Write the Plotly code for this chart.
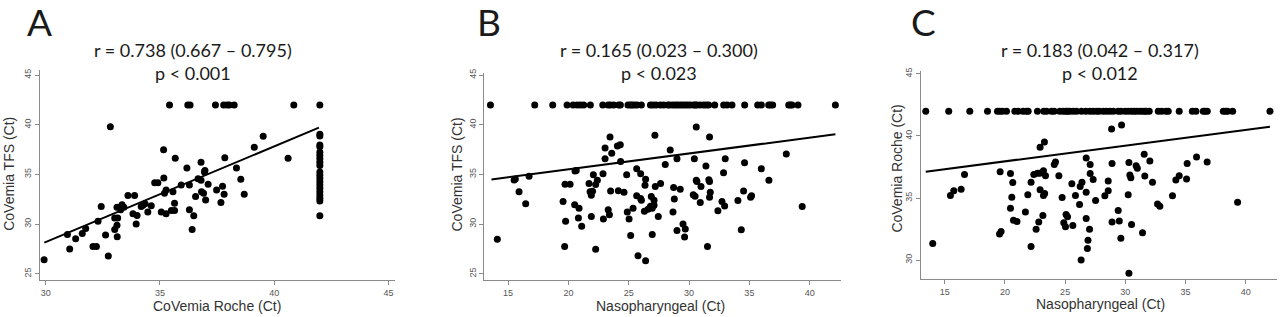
import plotly.graph_objects as go

# ---------------- Data ----------------
# Panel A: CoVemia Roche (x) vs CoVemia TFS (y)
a_x = [35.42, 36.22, 36.32, 37.43, 37.79, 37.94, 38.04, 38.25, 40.86, 42.0,
       42.0, 42.0, 42.0, 42.0, 42.0, 42.0, 42.0, 42.0, 42.0, 42.0,
       42.0, 42.0, 42.0, 42.0, 42.0, 42.0, 42.0, 42.0, 42.0, 42.0,
       29.93, 31.05, 30.95, 31.31, 31.60, 31.75, 32.29, 32.43, 32.07, 32.22,
       32.62, 32.74, 32.83, 33.02, 33.12, 33.13, 33.02, 33.15, 33.12, 33.28,
       33.34, 33.42, 33.60, 33.89, 33.82, 34.00, 33.96, 34.18, 34.35, 34.47,
       34.62, 34.26, 34.77, 34.91, 35.06, 35.17, 35.16, 35.20, 35.27, 35.27,
       35.57, 35.50, 35.64, 35.67, 35.64, 35.93, 36.18, 36.29, 36.29, 36.41,
       36.48, 36.56, 36.80, 36.80, 36.91, 36.82, 36.95, 37.00, 36.97, 36.67,
       37.11, 37.48, 37.74, 37.81, 37.67, 37.84, 38.35, 38.54, 38.69, 39.13,
       39.52, 40.61]
a_y = [42.0, 42.0, 42.0, 42.0, 42.0, 42.0, 42.0, 42.0, 42.0, 42.0,
       39.05, 38.88, 37.96, 37.80, 37.23, 36.90, 36.57, 36.24, 35.90, 35.25,
       34.92, 34.59, 34.26, 33.93, 33.60, 33.26, 32.93, 32.60, 32.34, 30.85,
       26.42, 27.50, 28.96, 28.53, 29.06, 29.56, 30.28, 31.77, 27.74, 27.74,
       28.90, 26.80, 39.80, 29.46, 29.89, 28.73, 30.61, 30.61, 31.70, 31.44,
       31.94, 31.70, 32.87, 32.87, 31.05, 30.88, 30.02, 31.77, 32.04, 31.21,
       31.84, 31.90, 34.16, 34.16, 31.21, 34.65, 37.50, 33.10, 33.43, 31.05,
       33.26, 31.38, 31.38, 36.63, 32.10, 33.93, 35.64, 33.93, 31.44, 29.46,
       30.85, 32.77, 36.24, 34.42, 33.10, 33.26, 35.24, 32.43, 35.41, 34.58,
       34.02, 33.43, 33.82, 33.00, 32.17, 36.67, 35.64, 34.52, 33.00, 37.73,
       38.85, 36.63]
a_fit_x = [29.94, 41.96]
a_fit_y = [28.14, 39.71]

# Panel B: Nasopharyngeal (x) vs CoVemia TFS (y)
b_top_x = [13.54, 17.21, 18.70, 19.89, 20.39, 20.72, 21.00, 21.27, 21.82, 22.85,
           23.29, 23.48, 23.76, 24.17, 24.31, 24.94, 25.14, 25.28, 25.47, 25.69,
           26.05, 26.80, 27.02, 27.27, 27.62, 27.90, 28.23, 28.40, 28.65, 28.87,
           29.06, 29.28, 29.48, 29.70, 29.89, 30.11, 30.39, 30.52, 30.66, 30.94,
           31.22, 31.44, 31.63, 32.13, 32.87, 33.15, 33.56, 34.61, 35.69, 35.99,
           36.60, 36.74, 36.93, 38.26, 38.40, 38.54, 39.03, 42.13]
b_top_y = [42.0, 42.0, 42.0, 42.0, 42.0, 42.0, 42.0, 42.0, 42.0, 42.0,
           42.0, 42.0, 42.0, 42.0, 42.0, 42.0, 42.0, 42.0, 42.0, 42.0,
           42.0, 42.0, 42.0, 42.0, 42.0, 42.0, 42.0, 42.0, 42.0, 42.0,
           42.0, 42.0, 42.0, 42.0, 42.0, 42.0, 42.0, 42.0, 42.0, 42.0,
           42.0, 42.0, 42.0, 42.0, 42.0, 42.0, 42.0, 42.0, 42.0, 42.0,
           42.0, 42.0, 42.0, 42.0, 42.0, 42.0, 42.0, 42.0]
b_x = [14.11, 15.50, 15.60, 16.74, 15.91, 16.46, 19.72, 20.14, 19.56, 19.77,
       19.69, 20.55, 20.65, 20.52, 20.88, 20.83, 21.10, 21.71, 21.80, 21.90,
       22.00, 22.40, 22.26, 22.07, 21.90, 22.26, 22.90, 23.45, 23.04, 23.59,
       24.06, 24.30, 23.04, 24.33, 22.87, 23.50, 23.30, 23.40, 24.14, 24.61,
       24.83, 24.88, 25.03, 25.16, 25.36, 25.66, 25.66, 25.99, 26.05, 25.99,
       25.77, 26.40, 26.35, 26.40, 26.30, 26.60, 26.80, 26.95, 27.10, 26.95,
       26.87, 27.17, 27.64, 27.45, 27.10, 28.44, 28.03, 29.00, 27.20, 28.72,
       28.78, 29.27, 28.67, 29.50, 29.69, 29.00, 29.63, 30.60, 31.70, 30.44,
       31.40, 30.60, 30.65, 31.64, 31.70, 30.99, 30.35, 30.50, 31.76, 31.70,
       30.93, 31.53, 32.39, 32.73, 32.95, 32.86, 33.00, 34.05, 34.33, 34.52,
       34.60, 35.18, 35.10, 35.99, 36.62, 38.06, 39.38]
b_y = [28.47, 34.45, 34.55, 34.82, 33.26, 32.04, 34.02, 34.02, 32.27, 30.29,
       27.74, 35.34, 35.40, 31.94, 31.61, 30.61, 29.79, 34.09, 33.26, 32.90,
       33.30, 34.42, 33.99, 34.98, 30.78, 27.48, 30.52, 38.78, 37.66, 37.13,
       37.87, 38.00, 36.57, 36.30, 35.08, 33.33, 31.44, 30.95, 33.36, 33.20,
       34.98, 31.21, 30.52, 28.86, 31.61, 35.57, 32.87, 32.57, 32.40, 35.08,
       26.82, 34.52, 33.92, 26.32, 31.30, 31.50, 31.80, 31.60, 31.90, 28.96,
       32.77, 38.95, 34.09, 30.78, 32.40, 37.46, 36.00, 36.57, 33.80, 33.69,
       32.53, 33.50, 31.21, 30.02, 29.52, 29.36, 28.70, 39.77, 38.78, 36.57,
       35.84, 34.42, 34.30, 34.47, 34.30, 33.79, 32.96, 32.80, 33.20, 32.70,
       32.17, 27.74, 31.34, 32.28, 31.82, 35.18, 36.57, 32.37, 29.43, 33.33,
       36.17, 32.87, 32.70, 35.57, 34.42, 37.07, 31.77]
b_fit_x = [13.62, 42.13]
b_fit_y = [34.49, 39.05]

# Panel C: Nasopharyngeal (x) vs CoVemia Roche (y)
c_top_x = [13.42, 15.33, 17.08, 18.55, 19.38, 19.57, 19.79, 20.13, 20.82, 21.10,
           21.51, 21.79, 21.93, 22.70, 23.23, 23.45, 23.87, 24.09, 24.56, 24.84,
           25.06, 25.20, 25.39, 25.67, 25.95, 26.36, 26.72, 27.06, 27.33, 27.61,
           27.83, 28.17, 28.44, 28.72, 29.00, 29.41, 29.63, 29.97, 30.24, 30.52,
           30.74, 30.94, 31.21, 31.44, 31.63, 31.77, 31.99, 32.74, 33.02, 33.38,
           33.57, 34.48, 35.57, 35.87, 36.48, 36.62, 36.81, 38.14, 38.34, 38.50,
           38.92, 42.02]
c_top_y = [42.0, 42.0, 42.0, 42.0, 42.0, 42.0, 42.0, 42.0, 42.0, 42.0,
           42.0, 42.0, 42.0, 42.0, 42.0, 42.0, 42.0, 42.0, 42.0, 42.0,
           42.0, 42.0, 42.0, 42.0, 42.0, 42.0, 42.0, 42.0, 42.0, 42.0,
           42.0, 42.0, 42.0, 42.0, 42.0, 42.0, 42.0, 42.0, 42.0, 42.0,
           42.0, 42.0, 42.0, 42.0, 42.0, 42.0, 42.0, 42.0, 42.0, 42.0,
           42.0, 42.0, 42.0, 42.0, 42.0, 42.0, 42.0, 42.0, 42.0, 42.0,
           42.0, 42.0]
c_x = [14.00, 16.64, 15.47, 15.75, 16.36, 19.60, 20.46, 20.65, 20.57, 20.46,
       20.71, 21.00, 19.55, 19.68, 21.70, 21.90, 22.17, 22.40, 22.70, 22.90,
       23.20, 22.92, 23.28, 23.37, 22.92, 23.30, 23.20, 23.15, 22.81, 22.59,
       22.17, 24.10, 24.20, 24.48, 24.75, 25.08, 25.20, 24.89, 25.03, 25.64,
       25.56, 25.86, 26.20, 26.25, 26.40, 26.75, 27.08, 26.75, 27.08, 26.75,
       27.03, 26.90, 26.85, 26.33, 28.86, 29.69, 27.33, 28.90, 30.30, 30.90,
       31.00, 31.57, 32.04, 30.38, 30.46, 31.62, 32.26, 28.58, 28.58, 28.30,
       27.53, 30.24, 29.41, 28.90, 29.50, 30.52, 29.63, 31.43, 30.30, 32.68,
       32.87, 33.92, 34.20, 34.48, 35.09, 35.14, 35.92, 36.80, 39.33]
c_y = [31.33, 36.90, 35.21, 35.58, 35.71, 37.12, 36.98, 36.24, 35.07, 34.17,
       33.20, 33.10, 32.10, 32.30, 33.88, 35.26, 36.27, 36.90, 37.00, 37.00,
       37.20, 39.10, 39.51, 36.80, 35.66, 35.37, 35.20, 33.60, 33.06, 32.48,
       31.09, 37.70, 37.90, 36.80, 35.05, 33.67, 33.48, 33.00, 32.68, 32.79,
       36.14, 35.21, 34.47, 35.92, 36.27, 38.23, 37.70, 35.47, 36.98, 33.35,
       32.48, 31.60, 30.93, 30.01, 40.57, 40.88, 36.50, 37.78, 37.86, 37.60,
       37.40, 38.53, 37.99, 36.85, 36.64, 36.77, 36.27, 36.38, 35.58, 35.18,
       34.79, 35.26, 33.99, 33.06, 33.14, 32.87, 31.76, 32.21, 28.94, 34.51,
       34.33, 35.18, 36.46, 36.80, 36.54, 37.78, 38.31, 37.91, 34.65]
c_fit_x = [13.42, 42.02]
c_fit_y = [37.12, 40.75]

panel_letters = ["A", "B", "C"]
r_texts = ["r = 0.738 (0.667 \u2013 0.795)",
           "r = 0.165 (0.023 \u2013 0.300)",
           "r = 0.183 (0.042 \u2013 0.317)"]
p_texts = ["p < 0.001", "p < 0.023", "p < 0.012"]
x_titles = ["CoVemia Roche (Ct)", "Nasopharyngeal (Ct)", "Nasopharyngeal (Ct)"]
y_titles = ["CoVemia TFS (Ct)", "CoVemia TFS (Ct)", "CoVemia Roche (Ct)"]
x_ticks = [[30, 35, 40, 45], [15, 20, 25, 30, 35, 40], [15, 20, 25, 30, 35, 40]]
y_ticks = [[25, 30, 35, 40, 45], [25, 30, 35, 40, 45], [30, 35, 40, 45]]

# ---------------- Figure ----------------
W, H = 1280, 317


def px_x(rx):
    return rx / W


def px_y(ry):
    return 1 - ry / H


fig = go.Figure()

marker = dict(color="#000000", size=7, line=dict(width=0))
line = dict(color="#000000", width=2)

panels = [
    (a_x, a_y, a_fit_x, a_fit_y, "x", "y"),
    (b_top_x + b_x, b_top_y + b_y, b_fit_x, b_fit_y, "x2", "y2"),
    (c_top_x + c_x, c_top_y + c_y, c_fit_x, c_fit_y, "x3", "y3"),
]
for px, py, fx, fy, xa, ya in panels:
    fig.add_trace(go.Scatter(x=px, y=py, mode="markers", marker=marker,
                             xaxis=xa, yaxis=ya, showlegend=False,
                             hoverinfo="x+y"))
    fig.add_trace(go.Scatter(x=fx, y=fy, mode="lines", line=line,
                             xaxis=xa, yaxis=ya, showlegend=False,
                             hoverinfo="skip"))

# pixel geometry of each plotting box: (left, right, top, bottom)
boxes = [(40.0, 395.0, 67.0, 279.3),
         (484.3, 840.7, 70.0, 279.3),
         (920.7, 1276.7, 68.3, 278.3)]
x_ranges = [[29.75, 45.29], [13.03, 42.57], [13.0, 42.58]]
y_ranges = [[24.4, 45.5], [24.4, 45.2], [28.49, 45.2]]

tickfont = dict(family="Liberation Sans, Arial, sans-serif", size=9, color="#555555")
axis_common = dict(showline=True, linecolor="#8a8a8a", linewidth=1,
                   ticks="outside", ticklen=4, tickcolor="#8a8a8a", tickwidth=1,
                   showgrid=False, zeroline=False, tickfont=tickfont,
                   fixedrange=True)

layout_axes = {}
for i, (l, r, t, b) in enumerate(boxes):
    sfx = "" if i == 0 else str(i + 1)
    layout_axes["xaxis" + sfx] = dict(
        domain=[px_x(l), px_x(r)], range=x_ranges[i], tickvals=x_ticks[i],
        anchor="y" + sfx, **axis_common)
    layout_axes["yaxis" + sfx] = dict(
        domain=[px_y(b), px_y(t)], range=y_ranges[i], tickvals=y_ticks[i],
        anchor="x" + sfx, tickangle=-90, **axis_common)

fig.update_layout(width=W, height=H, margin=dict(l=0, r=0, t=0, b=0),
                  paper_bgcolor="white", plot_bgcolor="white",
                  **layout_axes)

title_font = dict(family="Lato, Open Sans, sans-serif", size=18, color="#1a1a1a")
letter_font = dict(family="Lato, Open Sans, sans-serif", size=37, color="#1a1a1a")
axis_title_font = dict(family="Liberation Sans, Arial, sans-serif", size=14, color="#333333")

letter_pos = [(25, 18), (475, 18), (909, 18)]
title_cx = [192.5, 659.0, 1100.0]
xtitle_pos = [(217.0, 305.5), (660.0, 305.5), (1100.0, 304.0)]
ytitle_pos = [(9.5, 172.5), (456.7, 173.0), (896.7, 167.0)]

ann = []
for i in range(3):
    lx, ly = letter_pos[i]
    ann.append(dict(text=panel_letters[i], x=px_x(lx), y=px_y(ly), xref="paper", yref="paper",
                    xanchor="left", yanchor="middle", showarrow=False, font=letter_font))
    ann.append(dict(text=r_texts[i], x=px_x(title_cx[i]), y=px_y(47), xref="paper", yref="paper",
                    xanchor="center", yanchor="middle", showarrow=False, font=title_font))
    ann.append(dict(text=p_texts[i], x=px_x(title_cx[i]), y=px_y(70), xref="paper", yref="paper",
                    xanchor="center", yanchor="middle", showarrow=False, font=title_font))
    tx, ty = xtitle_pos[i]
    ann.append(dict(text=x_titles[i], x=px_x(tx), y=px_y(ty), xref="paper", yref="paper",
                    xanchor="center", yanchor="middle", showarrow=False, font=axis_title_font))
    yx, yy = ytitle_pos[i]
    ann.append(dict(text=y_titles[i], x=px_x(yx), y=px_y(yy), xref="paper", yref="paper",
                    xanchor="center", yanchor="middle", showarrow=False, textangle=-90,
                    font=axis_title_font))
fig.update_layout(annotations=ann)

# remove the default 8 px page margin so the figure fills the window exactly
fig.write_html("out.html",
               config={"displayModeBar": False},
               post_script="document.body.style.margin='0';document.body.style.overflow='hidden';")
